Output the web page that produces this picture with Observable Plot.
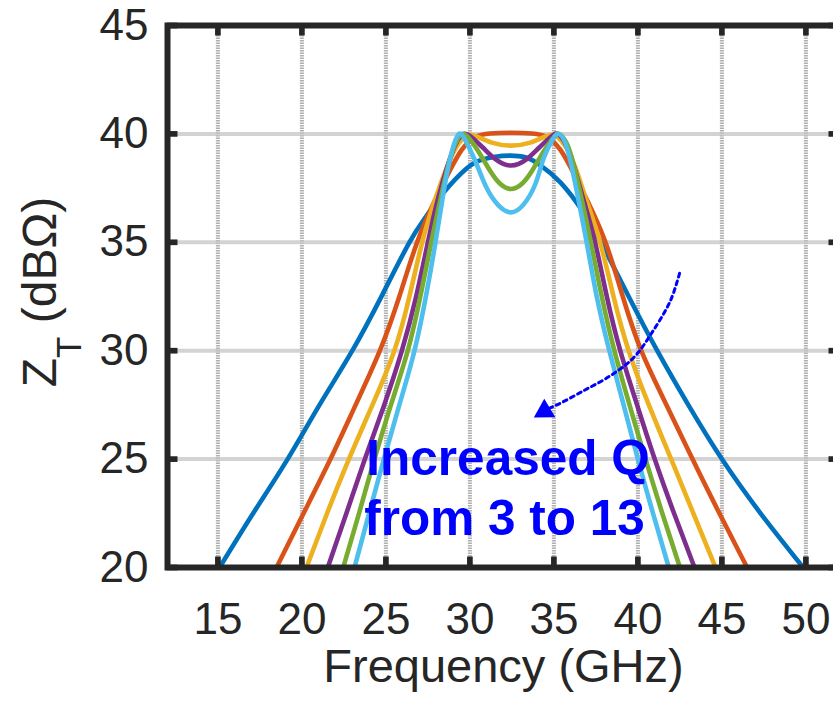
<!DOCTYPE html>
<html><head><meta charset="utf-8">
<script src="https://cdn.jsdelivr.net/npm/d3@7"></script>
<script src="https://cdn.jsdelivr.net/npm/@observablehq/plot@0.6"></script>
<style>html,body{margin:0;padding:0;background:#fff;} #chart svg{display:block;}</style>
</head><body><div id="chart"></div>
<script>
// ---- data ----
const xTicks = [15, 20, 25, 30, 35, 40, 45, 50];
const yTicks = [20, 25, 30, 35, 40, 45];
const seriesNames = ["Q = 3", "Q = 5", "Q = 7", "Q = 9", "Q = 11", "Q = 13"];
const seriesColors = ["#0072BD", "#D95319", "#EDB120", "#7E2F8E", "#77AC30", "#4DBEEE"];

const q3 = [[15.1,20],[17.1,22.5],[19.15,25],[21.05,27.5],[23.0,30],[24.8,32.6],[26.4,35],[27.4,36.2],[28.5,37.35],[29.8,38.4],[30.6,38.78],[31.5,38.95],[32.4,39.0],[33.3,38.92],[34.2,38.55],[35.4,37.75],[36.7,36.45],[37.8,35],[39.45,32.5],[41.15,30],[43.0,27.5],[45.0,25],[47.3,22.5],[49.84,20]];
const q5 = [[18.49,20],[20.1,22.5],[21.7,25],[23.2,27.5],[24.64,30],[25.8,32.5],[26.86,35],[27.9,36.9],[28.7,38.15],[29.5,39.25],[30.3,39.85],[31.2,40.02],[32.45,40.05],[33.7,40.02],[34.6,39.85],[35.4,39.25],[36.2,38.15],[37.0,36.9],[38.07,35],[39.1,32.5],[40.2,30],[41.7,27.5],[43.25,25],[44.85,22.5],[46.5,20]];
const q7 = [[20.27,20],[21.5,22.5],[22.8,25],[24.2,27.5],[25.5,30],[26.4,32.5],[27.16,35],[27.9,36.9],[28.6,38.4],[29.2,39.4],[29.8,39.92],[30.4,39.88],[31.3,39.6],[32.45,39.46],[33.6,39.6],[34.5,39.88],[35.1,39.92],[35.7,39.4],[36.3,38.4],[36.95,36.9],[37.75,35],[38.55,32.5],[39.45,30],[40.65,27.5],[41.98,25],[43.3,22.5],[44.62,20]];
const q9 = [[21.54,20],[22.65,22.5],[23.75,25],[24.9,27.5],[25.95,30],[26.8,32.5],[27.5,35],[28.1,37.0],[28.7,38.6],[29.2,39.6],[29.65,40.0],[30.1,39.85],[30.8,39.35],[31.5,38.85],[32.45,38.54],[33.4,38.85],[34.1,39.35],[34.8,39.85],[35.2,40.0],[35.65,39.6],[36.15,38.6],[36.75,37.0],[37.45,35],[38.15,32.5],[38.95,30],[39.95,27.5],[41.0,25],[42.15,22.5],[43.37,20]];
const q11 = [[22.46,20],[23.4,22.5],[24.32,25],[25.3,27.5],[26.3,30],[27.05,32.5],[27.7,35],[28.25,37.0],[28.8,38.8],[29.2,39.65],[29.55,40.0],[29.95,39.8],[30.5,39.2],[31.2,38.3],[31.8,37.7],[32.45,37.46],[33.1,37.7],[33.7,38.3],[34.4,39.2],[34.95,39.8],[35.3,40.0],[35.7,39.65],[36.1,38.8],[36.65,37.0],[37.2,35],[37.85,32.5],[38.6,30],[39.5,27.5],[40.45,25],[41.45,22.5],[42.5,20]];
const q13 = [[23.13,20],[24.0,22.5],[24.88,25],[25.8,27.5],[26.7,30],[27.38,32.5],[27.95,35],[28.45,37.4],[28.9,39.1],[29.35,40.0],[29.8,39.6],[30.4,38.6],[31.0,37.5],[31.7,36.7],[32.45,36.38],[33.2,36.75],[33.9,37.7],[34.4,38.9],[34.9,39.7],[35.3,40.0],[35.8,39.3],[36.35,37.4],[36.95,35],[37.55,32.5],[38.3,30],[39.15,27.5],[40.0,25],[40.9,22.5],[41.84,20]];
const seriesPoints = [q3, q5, q7, q9, q11, q13];

const arrowPath = [[42.48,33.57],[41.94,32.31],[40.85,30.85],[39.76,29.69],[38.37,28.85],[36.78,28.16],[35.29,27.54],[34.8,27.37]];
const arrowHead = [{x: 34.44, y: 27.21, angle: -121}];
const noteLines = [
  {x: 32.27, y: 25.0, text: "Increased Q"},
  {x: 32.06, y: 22.25, text: "from 3 to 13"}
];
const xLabel = "Frequency (GHz)";
const yLabelMain = "Z", yLabelSub = "T", yLabelUnit = " (dBΩ)";

// ---- build table ----
const rows = seriesPoints.flatMap((pts, i) => pts.map(([x, y]) => ({x, y, s: seriesNames[i]})));
const arrowRows = arrowPath.map(([x, y]) => ({x, y}));

const W = 833, H = 708, mL = 167, mR = -6, mT = 25, mB = 141;
const plotW = W - mL - mR, plotH = H - mT - mB, tickLen = 10.5;
const ink = "#262626";
const tickStyle = {stroke: ink, strokeWidth: 5.7};
const chart = Plot.plot({
  width: W,
  height: H,
  marginLeft: mL,
  marginRight: mR,
  marginTop: mT,
  marginBottom: mB,
  style: {fontFamily: "'Liberation Sans', Arial, Helvetica, sans-serif", color: ink, background: "#fff"},
  x: {domain: [12, 52], ticks: xTicks},
  y: {domain: [20, 45], ticks: yTicks},
  color: {domain: seriesNames, range: seriesColors},
  marks: [
    Plot.gridX(xTicks, {stroke: "#7a7a7a", strokeOpacity: 0.6, strokeWidth: 4, strokeDasharray: "1.5,1"}),
    Plot.gridY(yTicks, {stroke: "#c4c4c4", strokeOpacity: 0.75, strokeWidth: 4}),
    Plot.line(rows, {x: "x", y: "y", z: "s", stroke: "s", strokeWidth: 4.6, curve: "natural", strokeLinejoin: "round"}),
    Plot.frame({stroke: ink, strokeWidth: 6}),
    // inward ticks on all four sides
    Plot.tickX(xTicks, {x: d => d, ...tickStyle, insetBottom: plotH - tickLen}),
    Plot.tickX(xTicks, {x: d => d, ...tickStyle, insetTop: plotH - tickLen}),
    Plot.tickY(yTicks, {y: d => d, ...tickStyle, insetRight: plotW - tickLen}),
    Plot.tickY(yTicks, {y: d => d, ...tickStyle, insetLeft: plotW - tickLen}),
    Plot.axisX(xTicks, {anchor: "bottom", tickSize: 0, tickPadding: 35, fontSize: 44, fill: ink, label: null}),
    Plot.axisY(yTicks, {anchor: "left", tickSize: 0, tickPadding: 19, fontSize: 44, fill: ink, label: null}),
    Plot.text([xLabel], {frameAnchor: "bottom", dy: 114, fontSize: 47, fill: ink, text: d => d}),
    Plot.line(arrowRows, {x: "x", y: "y", stroke: "#0000ff", strokeWidth: 3, strokeDasharray: "4,4", curve: "catmull-rom"}),
    Plot.dot(arrowHead, {x: "x", y: "y", symbol: "triangle", r: 8, fill: "#0000ff", rotate: "angle"}),
    Plot.text(noteLines, {x: "x", y: "y", text: "text", fill: "#0000ff", fontSize: 49.5, fontWeight: "bold"})
  ]
});
document.getElementById("chart").appendChild(chart);

// y-axis title with subscript
const yl = d3.select(chart).append("text")
  .attr("transform", "translate(56,292) rotate(-90)")
  .attr("text-anchor", "middle")
  .attr("font-size", 48)
  .attr("fill", ink);
yl.append("tspan").text(yLabelMain);
yl.append("tspan").attr("font-size", 35).attr("dy", 25).text(yLabelSub);
yl.append("tspan").attr("dy", -25).text(yLabelUnit);
</script>
</body></html>
